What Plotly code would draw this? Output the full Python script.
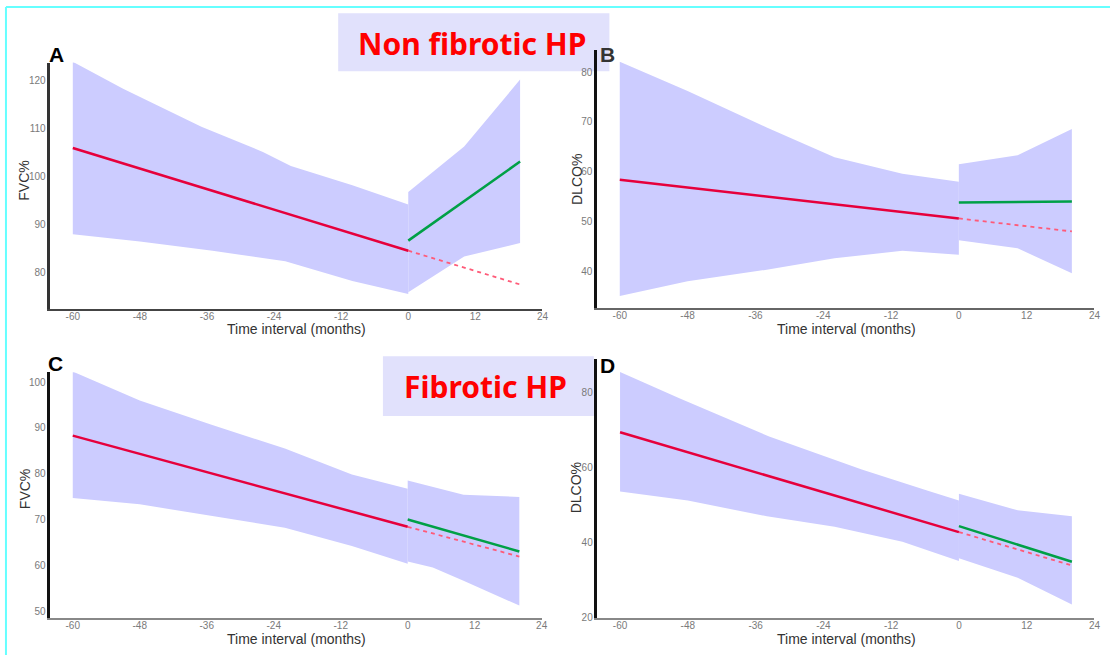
import plotly.graph_objects as go

W, H = 1114, 658

# ---------------- data ----------------
x_ticks = [-60, -48, -36, -24, -12, 0, 12, 24]
x_ticktext = ["-60", "-48", "-36", "-24", "-12", "0", "12", "24"]

# Panel A (Non fibrotic, FVC%)
A_up_pre_x = [-60, -51, -37, -26, -21, -10, 0]
A_up_pre = [123.8, 118.2, 110.3, 105.1, 102.2, 98.2, 94.2]
A_lo_pre_x = [-60, -48, -35, -22, -10, 0]
A_lo_pre = [88.0, 86.5, 84.6, 82.4, 78.3, 75.6]
A_up_post_x = [0, 10, 20]
A_up_post = [96.8, 106.2, 120.1]
A_lo_post_x = [0, 10, 20]
A_lo_post = [76.0, 83.4, 86.2]
A_red = [105.9, 84.6]
A_dash = [84.6, 77.6]
A_green = [86.7, 103.1]
A_yticks = [80, 90, 100, 110, 120]

# Panel B (Non fibrotic, DLCO%)
B_up_pre_x = [-60, -48, -34, -22, -10, 0]
B_up_pre = [82.1, 76.2, 68.9, 62.9, 59.6, 58.0]
B_lo_pre_x = [-60, -48, -34, -22, -10, 0]
B_lo_pre = [35.0, 38.0, 40.3, 42.6, 44.1, 43.3]
B_up_post_x = [0, 10.4, 20]
B_up_post = [61.5, 63.3, 68.6]
B_lo_post_x = [0, 10.4, 20]
B_lo_post = [46.2, 44.6, 39.6]
B_red = [58.4, 50.6]
B_dash = [50.6, 48.0]
B_green = [53.8, 54.0]
B_yticks = [40, 50, 60, 70, 80]

# Panel C (Fibrotic, FVC%)
C_up_pre_x = [-60, -48, -35, -22, -10, 0]
C_up_pre = [102.3, 96.0, 90.6, 85.5, 79.8, 76.7]
C_lo_pre_x = [-60, -48, -35, -22, -10, 0]
C_lo_pre = [74.7, 73.3, 70.7, 68.2, 64.2, 60.3]
C_up_post_x = [0, 10, 20]
C_up_post = [78.5, 75.4, 74.9]
C_lo_post_x = [0, 4.5, 10, 20]
C_lo_post = [60.8, 59.5, 56.6, 51.2]
C_red = [88.3, 68.4]
C_dash = [68.4, 61.9]
C_green = [70.0, 63.0]
C_yticks = [50, 60, 70, 80, 90, 100]

# Panel D (Fibrotic, DLCO%)
D_up_pre_x = [-60, -49.4, -33.6, -17.2, -5.5, 0]
D_up_pre = [85.5, 78.4, 68.3, 59.5, 53.8, 51.2]
D_lo_pre_x = [-60, -48, -34, -22, -10, 0]
D_lo_pre = [53.6, 51.2, 47.0, 44.2, 40.2, 35.1]
D_up_post_x = [0, 10.4, 20]
D_up_post = [53.0, 48.6, 47.0]
D_lo_post_x = [0, 10.4, 20]
D_lo_post = [35.8, 30.6, 23.5]
D_red = [69.4, 42.8]
D_dash = [42.8, 33.9]
D_green = [44.4, 34.9]
D_yticks = [20, 40, 60, 80]

pre_x = [-60, 0]
post_x = [0, 20]

# ---------------- helpers ----------------
def PX(px):
    return px / W

def PY(py):
    return 1 - py / H

BAND = "rgba(204,204,255,1)"
RED = "#e6003c"
DASH = "#ff5a78"
GREEN = "#00a046"

panels = [
    dict(up_pre_x=A_up_pre_x, up_pre=A_up_pre, lo_pre_x=A_lo_pre_x, lo_pre=A_lo_pre,
         up_post_x=A_up_post_x, up_post=A_up_post, lo_post_x=A_lo_post_x, lo_post=A_lo_post,
         red=A_red, dash=A_dash, green=A_green, yticks=A_yticks,
         xdom=[PX(50.7), PX(545.4)], ydom=[PY(311), PY(63)], yrange=[72.59, 123.64],
         ycol="#333", xcol="#444", xw=2),
    dict(up_pre_x=B_up_pre_x, up_pre=B_up_pre, lo_pre_x=B_lo_pre_x, lo_pre=B_lo_pre,
         up_post_x=B_up_post_x, up_post=B_up_post, lo_post_x=B_lo_post_x, lo_post=B_lo_post,
         red=B_red, dash=B_dash, green=B_green, yticks=B_yticks,
         xdom=[PX(600.4), PX(1100.4)], ydom=[PY(310.7), PY(50)], yrange=[32.54, 84.53],
         ycol="#111", xcol="#666", xw=1.5),
    dict(up_pre_x=C_up_pre_x, up_pre=C_up_pre, lo_pre_x=C_lo_pre_x, lo_pre=C_lo_pre,
         up_post_x=C_up_post_x, up_post=C_up_post, lo_post_x=C_lo_post_x, lo_post=C_lo_post,
         red=C_red, dash=C_dash, green=C_green, yticks=C_yticks,
         xdom=[PX(50.7), PX(544.6)], ydom=[PY(622.7), PY(375)], yrange=[48.48, 102.17],
         ycol="#111", xcol="#888", xw=1.5),
    dict(up_pre_x=D_up_pre_x, up_pre=D_up_pre, lo_pre_x=D_lo_pre_x, lo_pre=D_lo_pre,
         up_post_x=D_up_post_x, up_post=D_up_post, lo_post_x=D_lo_post_x, lo_post=D_lo_post,
         red=D_red, dash=D_dash, green=D_green, yticks=D_yticks,
         xdom=[PX(600.7), PX(1100.4)], ydom=[PY(622.7), PY(361.7)], yrange=[19.9, 88.96],
         ycol="#111", xcol="#888", xw=1.5),
]

fig = go.Figure()
layout = {}
tickfont = dict(family="Liberation Sans, Arial, sans-serif", size=10, color="#7a7a7a")

for i, p in enumerate(panels, start=1):
    xa = "x" if i == 1 else f"x{i}"
    ya = "y" if i == 1 else f"y{i}"
    for ux, uy, lx, ly in [(p["up_pre_x"], p["up_pre"], p["lo_pre_x"], p["lo_pre"]),
                           (p["up_post_x"], p["up_post"], p["lo_post_x"], p["lo_post"])]:
        fig.add_trace(go.Scatter(
            x=list(ux) + list(reversed(lx)),
            y=list(uy) + list(reversed(ly)),
            fill="toself", fillcolor=BAND, line=dict(width=0), mode="lines",
            hoverinfo="skip", showlegend=False, xaxis=xa, yaxis=ya))
    fig.add_trace(go.Scatter(x=post_x, y=p["dash"], mode="lines",
                             line=dict(color=DASH, width=1.8, dash="4px,4px"),
                             showlegend=False, xaxis=xa, yaxis=ya))
    fig.add_trace(go.Scatter(x=pre_x, y=p["red"], mode="lines",
                             line=dict(color=RED, width=2.5),
                             showlegend=False, xaxis=xa, yaxis=ya))
    fig.add_trace(go.Scatter(x=post_x, y=p["green"], mode="lines",
                             line=dict(color=GREEN, width=2.5),
                             showlegend=False, xaxis=xa, yaxis=ya))

    xkey = "xaxis" if i == 1 else f"xaxis{i}"
    ykey = "yaxis" if i == 1 else f"yaxis{i}"
    layout[xkey] = dict(domain=p["xdom"], range=[-64, 24], anchor=ya,
                        tickmode="array", tickvals=x_ticks, ticktext=x_ticktext, ticks="",
                        ticklabelstandoff=-3,
                        showgrid=False, zeroline=False, showline=True,
                        linecolor=p["xcol"], linewidth=p["xw"], tickfont=tickfont,
                        fixedrange=True)
    layout[ykey] = dict(domain=p["ydom"], range=p["yrange"], anchor=xa,
                        tickmode="array", tickvals=p["yticks"], ticks="",
                        showgrid=False, zeroline=False, showline=True,
                        linecolor=p["ycol"], linewidth=2.5, tickfont=tickfont,
                        fixedrange=True)

annotations = []
shapes = []

axfont = dict(family="Liberation Sans, Arial, sans-serif", size=14, color="#333")
for (cx, cy) in [(298, 332), (851, 332), (298, 644), (851, 644)]:
    annotations.append(dict(x=PX(cx), y=PY(cy), xref="paper", yref="paper",
                            text="Time interval (months)", showarrow=False,
                            font=axfont, xanchor="center", yanchor="middle"))
for (cx, cy, t) in [(24.5, 181.7, "FVC%"), (579.5, 181, "DLCO%"),
                    (24.5, 492.5, "FVC%"), (579.5, 491.7, "DLCO%")]:
    annotations.append(dict(x=PX(cx), y=PY(cy), xref="paper", yref="paper",
                            text=t, showarrow=False, textangle=-90,
                            font=axfont, xanchor="center", yanchor="middle"))

BOX = "#e1e1fc"
shapes.append(dict(type="rect", xref="paper", yref="paper", layer="below",
                   x0=PX(340), x1=PX(612.7), y0=PY(71.7), y1=PY(13.3),
                   fillcolor=BOX, line=dict(width=0)))
shapes.append(dict(type="rect", xref="paper", yref="paper", layer="below",
                   x0=PX(385), x1=PX(597), y0=PY(419.3), y1=PY(359),
                   fillcolor=BOX, line=dict(width=0)))
boxfont = dict(family="Noto Sans, sans-serif", size=30, color="#ff0000")
annotations.append(dict(x=PX(474.5), y=PY(43.5), xref="paper", yref="paper",
                        text="<b>Non fibrotic HP</b>", showarrow=False, font=boxfont,
                        xanchor="center", yanchor="middle"))
annotations.append(dict(x=PX(488.5), y=PY(389), xref="paper", yref="paper",
                        text="<b>Fibrotic HP</b>", showarrow=False, font=boxfont,
                        xanchor="center", yanchor="middle"))

for (cx, cy, t, c) in [(56.4, 55, "A", "#000"), (611, 55, "B", "#333"),
                       (56, 366.7, "C", "#000"), (611, 368, "D", "#000")]:
    annotations.append(dict(x=PX(cx), y=PY(cy), xref="paper", yref="paper",
                            text=f"<b>{t}</b>", showarrow=False,
                            font=dict(family="Liberation Sans, Arial, sans-serif", size=21, color=c),
                            xanchor="center", yanchor="middle"))

CYAN = "#66ffff"
shapes.append(dict(type="line", xref="paper", yref="paper", layer="above",
                   x0=PX(6), x1=PX(6), y0=PY(7), y1=PY(660), line=dict(color=CYAN, width=2)))
shapes.append(dict(type="line", xref="paper", yref="paper", layer="above",
                   x0=PX(6), x1=PX(1116), y0=PY(7), y1=PY(7), line=dict(color=CYAN, width=2)))

fig.update_layout(width=W, height=H, margin=dict(l=0, r=0, t=0, b=0),
                  paper_bgcolor="white", plot_bgcolor="rgba(0,0,0,0)",
                  showlegend=False, annotations=annotations, shapes=shapes, **layout)

fig.write_html("out.html", config={"displayModeBar": False},
               post_script="document.body.style.margin='0';document.body.style.overflow='hidden';")
